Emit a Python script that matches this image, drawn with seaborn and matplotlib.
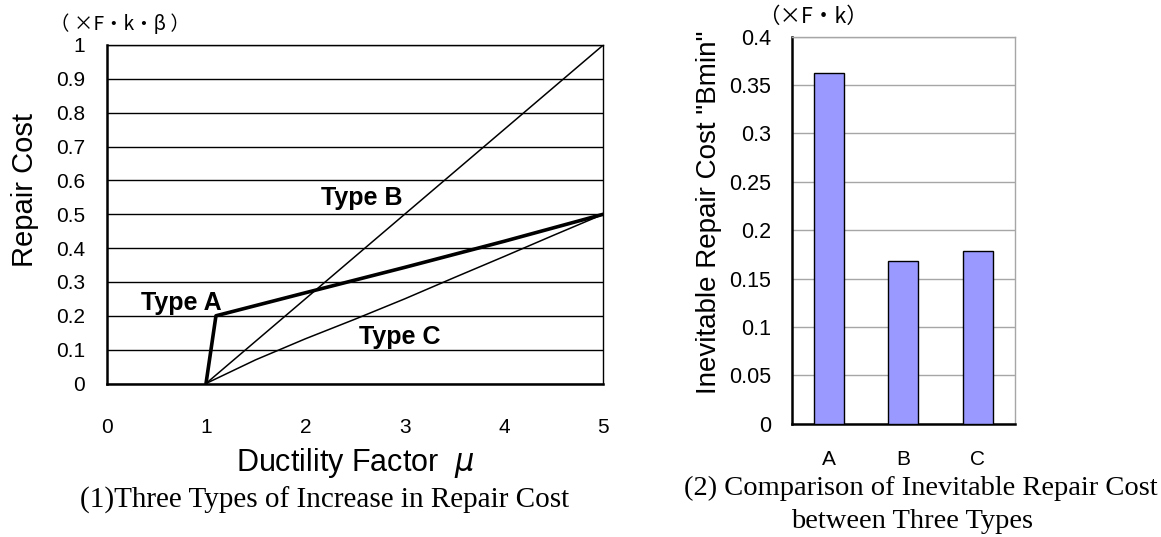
import matplotlib
matplotlib.use("Agg")
import matplotlib.pyplot as plt
import matplotlib.font_manager as fm
from matplotlib.ticker import FixedLocator
import seaborn as sns
import pandas as pd

# ---------------- data ----------------
mu_A = [1.0, 1.1, 2.0, 3.0, 4.0, 5.0]
cost_A = [0.0, 0.2, 0.268, 0.343, 0.42, 0.5]
mu_B = [1.0, 2.0, 3.0, 4.0, 5.0]
cost_B = [0.0, 0.25, 0.5, 0.75, 1.0]
mu_C = [1.0, 1.5, 2.0, 2.5, 3.0, 3.5, 4.0, 4.5, 5.0]
cost_C = [0.0, 0.07, 0.132, 0.19, 0.25, 0.313, 0.375, 0.438, 0.5]

bar_types = ["A", "B", "C"]
bmin_values = [0.362, 0.168, 0.178]

x_ticks_left = [0, 1, 2, 3, 4, 5]
y_ticks_left = [0, 0.1, 0.2, 0.3, 0.4, 0.5, 0.6, 0.7, 0.8, 0.9, 1]
y_ticks_right = [0, 0.05, 0.1, 0.15, 0.2, 0.25, 0.3, 0.35, 0.4]

# ---------------- style ----------------
sns.set_theme(style="white")
avail = {f.name for f in fm.fontManager.ttflist}
SANS = "Liberation Sans" if "Liberation Sans" in avail else "DejaVu Sans"
SERIF = "Liberation Serif" if "Liberation Serif" in avail else "DejaVu Serif"
CJK = "Noto Sans CJK JP"
plt.rcParams["font.family"] = [SANS, "DejaVu Sans"]
plt.rcParams["mathtext.fontset"] = "dejavusans"
plt.rcParams["text.color"] = "black"
plt.rcParams["axes.labelcolor"] = "black"
plt.rcParams["xtick.color"] = "black"
plt.rcParams["ytick.color"] = "black"

fig = plt.figure(figsize=(11.61, 5.37), dpi=100)
W, H = 1161, 537

def ax_rect(l, t, r, b):
    return [l / W, 1 - b / H, (r - l) / W, (b - t) / H]

# ---------------- left chart ----------------
ax1 = fig.add_axes(ax_rect(106.7, 45, 603.3, 383.5))
dfA = pd.DataFrame({"mu": mu_A, "cost": cost_A})
dfB = pd.DataFrame({"mu": mu_B, "cost": cost_B})
dfC = pd.DataFrame({"mu": mu_C, "cost": cost_C})
sns.lineplot(data=dfB, x="mu", y="cost", ax=ax1, color="black", lw=1.1,
             sort=False, estimator=None, zorder=3)
sns.lineplot(data=dfC, x="mu", y="cost", ax=ax1, color="black", lw=1.1,
             sort=False, estimator=None, zorder=3)
sns.lineplot(data=dfA, x="mu", y="cost", ax=ax1, color="black", lw=2.6,
             sort=False, estimator=None, zorder=4)
ax1.set_xlim(0, 5)
ax1.set_ylim(0, 1)
ax1.xaxis.set_major_locator(FixedLocator(x_ticks_left))
ax1.yaxis.set_major_locator(FixedLocator(y_ticks_left))
ax1.set_xticklabels([f"{v:g}" for v in x_ticks_left])
ax1.set_yticklabels([f"{v:g}" for v in y_ticks_left])
ax1.grid(axis="y", color="black", lw=1.0)
ax1.grid(axis="x", visible=False)
ax1.tick_params(axis="x", direction="in", length=5, width=1, color="black",
                pad=25, labelsize=15, labelcolor="black")
ax1.tick_params(axis="y", direction="out", length=2, width=1, color="black",
                pad=13.5, labelsize=15, labelcolor="black")
for s in ["top", "right"]:
    ax1.spines[s].set_color("black")
    ax1.spines[s].set_linewidth(1.0)
for s in ["left", "bottom"]:
    ax1.spines[s].set_color("black")
    ax1.spines[s].set_linewidth(1.8)
ax1.set_xlabel("Ductility Factor  $\\mu$", fontsize=22, color="black", labelpad=6)
ax1.set_ylabel("Repair Cost", fontsize=21, color="black")
ax1.yaxis.set_label_coords(-0.136, 0.573)
ax1.text(0.755, 0.239, "Type A", fontsize=18, fontweight="bold", ha="center", va="center")
ax1.text(2.57, 0.548, "Type B", fontsize=18, fontweight="bold", ha="center", va="center")
ax1.text(2.95, 0.136, "Type C", fontsize=18, fontweight="bold", ha="center", va="center")
fig.text(120 / W, 1 - 24 / H, "（ ×F・k・β ）", fontsize=14, family=[CJK, "DejaVu Sans"],
         ha="center", va="center")
fig.text(325 / W, 1 - 500 / H, "(1)Three Types of Increase in Repair Cost",
         fontsize=21, family=SERIF, ha="center", va="center")

# ---------------- right chart ----------------
ax2 = fig.add_axes(ax_rect(791.7, 36.7, 1015, 423.7))
dfbar = pd.DataFrame({"type": bar_types, "bmin": bmin_values})
sns.barplot(data=dfbar, x="type", y="bmin", ax=ax2, color="#9999FF",
            saturation=1, edgecolor="black", linewidth=1.0, width=0.4, zorder=3)
ax2.set_xlim(-0.5, 2.5)
ax2.set_ylim(0, 0.4)
ax2.yaxis.set_major_locator(FixedLocator(y_ticks_right))
ax2.set_yticklabels([f"{v:g}" for v in y_ticks_right])
ax2.xaxis.set_minor_locator(FixedLocator([0.5, 1.5]))
ax2.grid(axis="y", color="#a6a6a6", lw=1.0, zorder=0)
ax2.grid(axis="x", visible=False)
ax2.set_axisbelow(True)
ax2.tick_params(axis="x", which="major", length=0, pad=19, labelsize=15,
                labelcolor="black")
ax2.tick_params(axis="x", which="minor", direction="in", length=6, width=1,
                color="black")
ax2.tick_params(axis="y", direction="in", length=6, width=1, color="black",
                pad=15, labelsize=15.5, labelcolor="black")
for s in ["top", "right"]:
    ax2.spines[s].set_color("#a6a6a6")
    ax2.spines[s].set_linewidth(1.0)
for s in ["left", "bottom"]:
    ax2.spines[s].set_color("black")
    ax2.spines[s].set_linewidth(1.8)
ax2.set_xlabel("")
ax2.set_ylabel('Inevitable Repair Cost "Bmin"', fontsize=20, color="black")
ax2.yaxis.set_label_coords(-0.312, 0.546)
fig.text(813 / W, 1 - 16.7 / H, "（×F・k）", fontsize=15.5, family=[CJK, "DejaVu Sans"],
         ha="center", va="center")
fig.text(921 / W, 1 - 488.7 / H, "(2) Comparison of Inevitable Repair Cost",
         fontsize=20.5, family=SERIF, ha="center", va="center")
fig.text(912 / W, 1 - 522 / H, "between Three Types",
         fontsize=20.5, family=SERIF, ha="center", va="center")

fig.savefig("out.png", dpi=100, facecolor="white")
